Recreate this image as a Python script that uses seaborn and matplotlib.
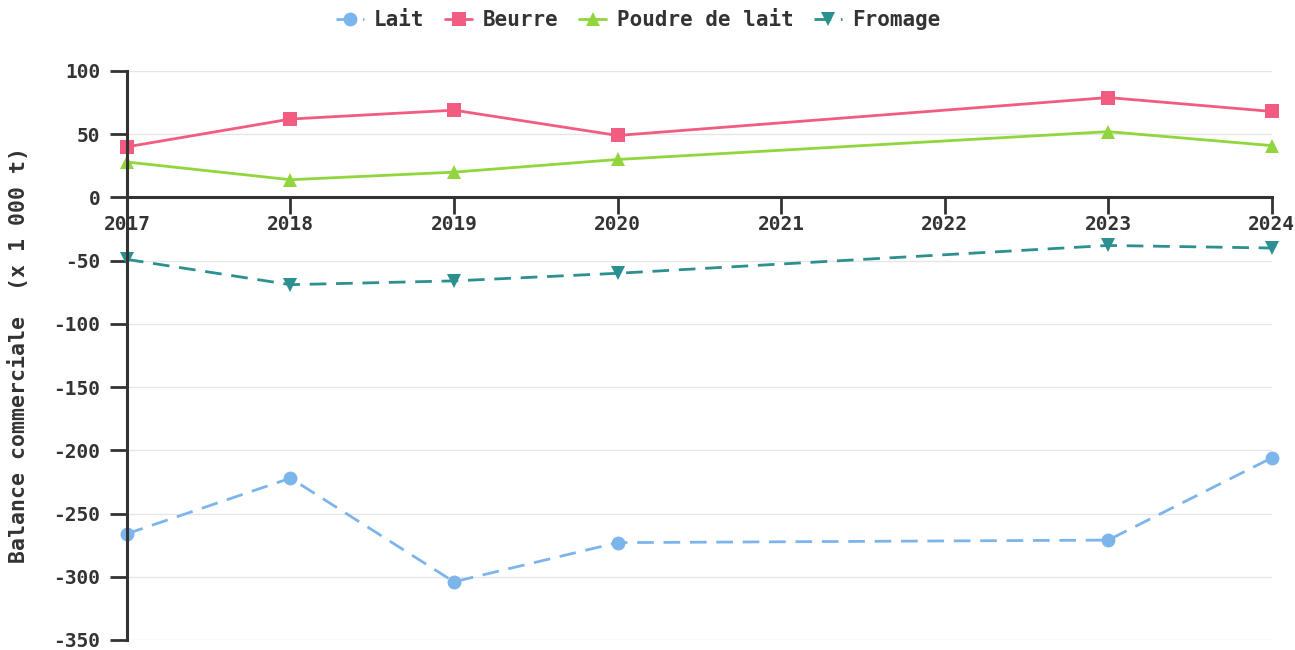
import pandas as pd
import seaborn as sns
import matplotlib.pyplot as plt

# years with data (2021 and 2022 are missing, lines just join across)
years = [2017, 2018, 2019, 2020, 2023, 2024]
lait = [-266, -222, -304, -273, -271, -206]
beurre = [40, 62, 69, 49, 79, 68]
poudre = [28, 14, 20, 30, 52, 41]
fromage = [-49, -69, -66, -60, -38, -40]

year_ticks = [2017, 2018, 2019, 2020, 2021, 2022, 2023, 2024]
y_ticks = [100, 50, 0, -50, -100, -150, -200, -250, -300, -350]

sns.set_theme(style="white")
plt.rcParams['font.family'] = ['DejaVu Sans Mono', 'DejaVu Sans']
plt.rcParams['font.weight'] = 'bold'
plt.rcParams['axes.unicode_minus'] = False

# name, values, colour, marker, dash pattern
series = [
  ("Lait", lait, "#7cb5ec", "o", (6, 3.5)),
  ("Beurre", beurre, "#f15c80", "s", None),
  ("Poudre de lait", poudre, "#90d63c", "^", None),
  ("Fromage", fromage, "#2b908f", "v", (6, 3.5)),
]

fig = plt.figure(figsize=(12.95, 6.5), dpi=100)
ax = fig.add_axes([0.098, 0.0154, 0.884, 0.8754])

for name, vals, color, marker, dash in series:
  df = pd.DataFrame({"annee": years, "valeur": vals})
  sns.lineplot(data=df, x="annee", y="valeur", ax=ax, color=color,
               marker=marker, markersize=10, markeredgewidth=0,
               linewidth=2, label=name, clip_on=False)
  if dash is not None:
    ax.lines[-1].set_dashes(dash)

ax.set_xlim(2017, 2024)
ax.set_ylim(-350, 100)
ax.set_xticks(year_ticks)
ax.set_yticks(y_ticks)
ax.set_xlabel("")
ax.set_ylabel("Balance commerciale  (x 1 000 t)", fontsize=15.5, fontweight='bold',
              color='#333333', labelpad=18)

# left spine plus a bottom one sitting at zero
ax.spines['top'].set_visible(False)
ax.spines['right'].set_visible(False)
ax.spines['bottom'].set_position(('data', 0))
for s in ['left', 'bottom']:
  ax.spines[s].set_color('#333333')
  ax.spines[s].set_linewidth(2.2)

ax.tick_params(axis='both', direction='out', length=12, width=2, color='#333333',
               labelsize=14, labelcolor='#333333', bottom=True, left=True)
ax.tick_params(axis='y', pad=7)
ax.tick_params(axis='x', pad=1)
ax.yaxis.grid(True, color='#e6e6e6', linewidth=1)
ax.xaxis.grid(False)
ax.set_axisbelow(True)

handles, labels = ax.get_legend_handles_labels()
ax.get_legend().remove()
fig.legend(handles, labels, loc='center', bbox_to_anchor=(0.493, 0.969), ncol=4,
           frameon=False, fontsize=15, handlelength=1.3, columnspacing=1.0,
           handletextpad=0.5, labelcolor='#333333')

fig.savefig("out.png", dpi=100)
